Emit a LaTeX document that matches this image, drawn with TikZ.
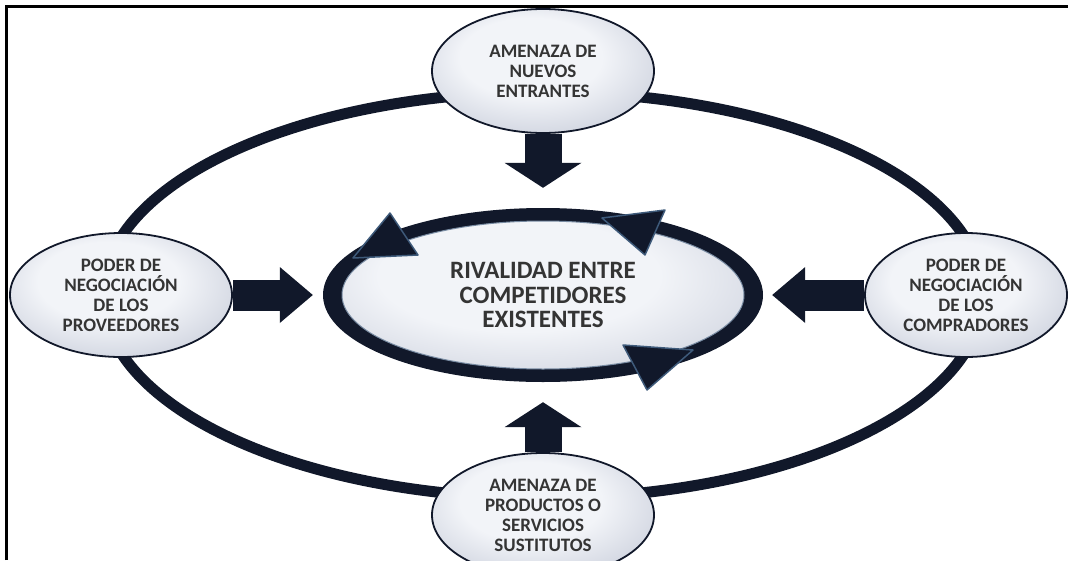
\documentclass[tikz,border=0pt]{standalone}
\usepackage{fontspec}
\setmainfont{Carlito}
\usetikzlibrary{arrows.meta,shapes.geometric,backgrounds}

\definecolor{navy}{RGB}{17,24,42}
\definecolor{rimblue}{RGB}{62,90,122}
\definecolor{glossin}{RGB}{242,244,248}
\definecolor{glossmid}{RGB}{200,205,218}
\definecolor{glossout}{RGB}{98,106,130}
\definecolor{labelgray}{RGB}{52,52,52}
\pgfdeclareradialshading{glossy}{\pgfpoint{-4bp}{8bp}}{color(0bp)=(glossin); color(16bp)=(glossin); color(34bp)=(glossmid); color(50bp)=(glossout)}

\begin{document}
\begin{tikzpicture}[x=1pt,y=1pt,node distance=224pt]
        \tikzstyle{every node}=[text=labelgray,align=center]
        \tikzstyle{force}=[ellipse,draw=navy,line width=1.8pt,shading=glossy,inner sep=1pt,
            minimum width=222pt,minimum height=124pt,font=\fontsize{19}{20}\selectfont\bfseries]
        \tikzstyle{rivalring}=[ellipse,fill=navy,minimum width=440pt,minimum height=174pt,
            font=\fontsize{25}{24.5}\selectfont\bfseries,
            path picture={\shade[shading=glossy] (path picture bounding box.center) ellipse [x radius=201pt,y radius=74pt];
                \draw[rimblue!70,line width=1pt] (path picture bounding box.center) ellipse [x radius=201pt,y radius=74pt];}]
        \tikzstyle{harrow}=[line width=31pt,navy,-{Triangle[length=33pt,width=56pt,line width=0pt]}]
        \tikzstyle{varrow}=[line width=37pt,navy,-{Triangle[length=25pt,width=77pt,line width=0pt]}]
        \tikzstyle{spin}=[fill=navy,draw=rimblue,line width=1.5pt,line join=round]
        \useasboundingbox (0,0) rectangle (1068,-560);

        \node[rivalring] (rival)       at (543,-295)                       {RIVALIDAD ENTRE\\COMPETIDORES\\EXISTENTES};
        \node[force]     (nuevos)      [above of=rival]                    {AMENAZA DE\\NUEVOS\\ENTRANTES};
        \node[force]     (sustitutos)  [below of=rival, node distance=220pt] {AMENAZA DE\\PRODUCTOS O\\SERVICIOS\\SUSTITUTOS};
        \node[force]     (proveedores) [left of=rival, node distance=422pt]  {PODER DE\\NEGOCIACIÓN\\DE LOS\\PROVEEDORES};
        \node[force, minimum width=202pt] (compradores) [right of=rival, node distance=423pt] {PODER DE\\NEGOCIACIÓN\\DE LOS\\COMPRADORES};

        % frame, ring and block arrows behind the nodes
        \begin{scope}[on background layer]
            \draw[line width=3pt] (6,-560) -- (6,-6) -- (1068,-6);
            \draw[navy,line width=11pt] (rival.center) ellipse [x radius=440pt,y radius=203pt];
            \draw[varrow] (nuevos.south)      -- ([yshift=20pt]rival.north);
            \draw[varrow] (sustitutos.north)  -- ([yshift=-20pt]rival.south);
            \draw[harrow] (proveedores.east)  -- ([xshift=-10pt]rival.west);
            \draw[harrow] (compradores.west)  -- ([xshift=9pt]rival.east);
        \end{scope}

        % turning arrowheads on the rivalry ring
        \draw[spin] (390,-213) -- (353,-258) -- (418,-255) -- cycle;
        \draw[spin] (602,-218) -- (665,-210) -- (645,-255) -- cycle;
        \draw[spin] (623,-345) -- (693,-350) -- (647,-390) -- cycle;
    \end{tikzpicture}
\end{document}
